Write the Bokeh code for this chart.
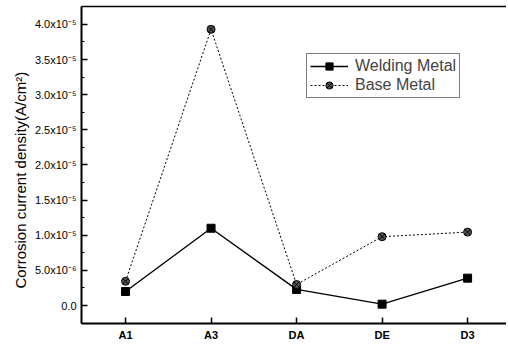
from bokeh.plotting import figure
from bokeh.models import Range1d, FixedTicker, Legend, LegendItem, LinearAxis, Title
from bokeh.embed import file_html
from bokeh.resources import INLINE

categories = ["A1", "A3", "DA", "DE", "D3"]
x_pos = [1, 2, 3, 4, 5]
welding_metal = [2.0e-6, 1.1e-5, 2.3e-6, 0.2e-6, 3.9e-6]
base_metal = [3.45e-6, 3.93e-5, 3.0e-6, 9.8e-6, 1.045e-5]
y_ticks = [0.0, 5e-6, 1e-5, 1.5e-5, 2e-5, 2.5e-5, 3e-5, 3.5e-5, 4e-5]
y_tick_labels = ["0.0", "5.0x10⁻⁶", "1.0x10⁻⁵", "1.5x10⁻⁵", "2.0x10⁻⁵",
                 "2.5x10⁻⁵", "3.0x10⁻⁵", "3.5x10⁻⁵", "4.0x10⁻⁵"]
y_title = "Corrosion current density(A/cm²)"

FONT = "Liberation Sans"

p = figure(width=506, height=343, output_backend="svg", toolbar_location=None,
           x_range=Range1d(0.485, 5.455), y_range=Range1d(-2.553e-6, 4.255e-5),
           min_border_left=81, min_border_right=0, min_border_top=4, min_border_bottom=20)
p.grid.visible = False
p.outline_line_color = None
p.background_fill_color = "white"
p.border_fill_color = "white"

# axes
xax = p.below[0]
yax = p.left[0]
xax.ticker = FixedTicker(ticks=x_pos)
xax.major_label_overrides = {x: c for x, c in zip(x_pos, categories)}
yax.ticker = FixedTicker(ticks=y_ticks,
                         minor_ticks=[2.5e-6 + 5e-6 * i for i in range(8)] + [-2.5e-6])
yax.major_label_overrides = {t: l for t, l in zip(y_ticks, y_tick_labels)}
for ax in (xax, yax):
    ax.axis_line_width = 2
    ax.axis_line_color = "black"
    ax.major_tick_in = 6
    ax.major_tick_out = 0
    ax.minor_tick_in = 3
    ax.minor_tick_out = 0
    ax.major_tick_line_width = 1.5
    ax.major_label_text_font = FONT
    ax.major_label_text_font_size = "11px"
    ax.major_label_text_color = "black"
    ax.major_label_standoff = 5
xax.minor_tick_line_color = None
xax.major_label_text_font_style = "bold"

# top frame line (no right border visible in the reference)
top = LinearAxis(major_tick_line_color=None, minor_tick_line_color=None,
                 major_label_text_color=None, major_label_text_font_size="1px",
                 axis_line_color="black", axis_line_width=1.5,
                 major_label_standoff=0)
p.add_layout(top, "above")

p.add_layout(Title(text=y_title, align="left", offset=35, standoff=6,
                   text_font=FONT, text_font_size="15px", text_font_style="normal",
                   text_color="black"), "left")

# series
wl = p.line(x_pos, welding_metal, line_color="black", line_width=1.4)
ws = p.scatter(x_pos, welding_metal, marker="square", size=8, fill_color="black", line_color="black")
bl = p.line(x_pos, base_metal, line_color="black", line_width=1, line_dash="2 2")
bs = p.scatter(x_pos, base_metal, marker="circle_x", size=8, fill_color="#555555", line_color="black")

legend = Legend(items=[LegendItem(label="Welding Metal", renderers=[wl, ws]),
                       LegendItem(label="Base Metal", renderers=[bl, bs])],
                location=(225, 225))
legend.label_text_font = FONT
legend.label_text_font_size = "16px"
legend.glyph_width = 38
legend.glyph_height = 18
legend.label_height = 18
legend.label_standoff = 7
legend.padding = 3
legend.spacing = 1
legend.margin = 0
legend.border_line_color = "black"
legend.border_line_width = 1.2
legend.background_fill_alpha = 1
p.add_layout(legend, "center")

open("out.html", "w").write(file_html(p, INLINE))
